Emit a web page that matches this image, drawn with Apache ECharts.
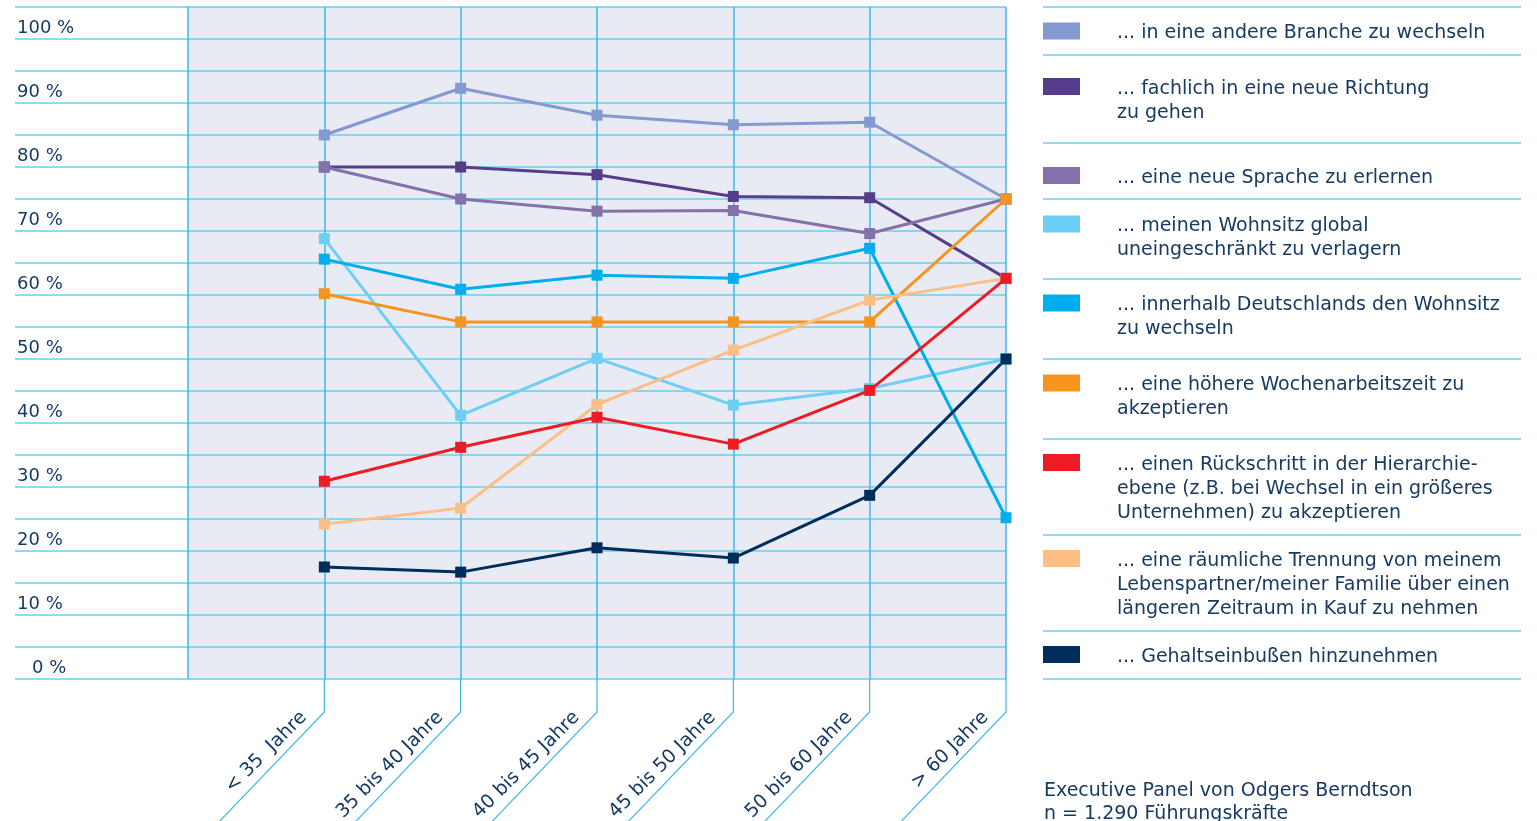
<!DOCTYPE html>
<html>
<head>
<meta charset="utf-8">
<script src="https://cdn.jsdelivr.net/npm/echarts@6/dist/echarts.min.js"></script>
<style>
  html, body { margin: 0; padding: 0; background: #fff; }
  #chart { width: 1537px; height: 821px; }
</style>
</head>
<body>
<div id="chart"></div>
<script>
// Altersgruppen (x-Achse)
const ageGroups = ['< 35  Jahre', '35 bis 40 Jahre', '40 bis 45 Jahre', '45 bis 50 Jahre', '50 bis 60 Jahre', '> 60 Jahre'];

// Werte in Prozent, je Aussage
const branche = [85, 92.3, 88.1, 86.6, 87, 75];
const richtung = [80, 80, 78.8, 75.4, 75.2, 62.6];
const sprache = [80, 75, 73.1, 73.2, 69.6, 75];
const wohnsitzGlobal = [68.8, 41.2, 50.1, 42.8, 45.4, 50];
const wohnsitzDE = [65.6, 60.9, 63.1, 62.6, 67.3, 25.2];
const wochenarbeitszeit = [60.2, 55.8, 55.8, 55.8, 55.8, 75];
const rueckschritt = [30.9, 36.2, 40.9, 36.7, 45.1, 62.6];
const trennung = [24.2, 26.7, 42.9, 51.4, 59.2, 62.6];
const gehalt = [17.5, 16.7, 20.5, 18.9, 28.7, 50];

const seriesNames = [
  '... in eine andere Branche zu wechseln',
  '... fachlich in eine neue Richtung\nzu gehen',
  '... eine neue Sprache zu erlernen',
  '... meinen Wohnsitz global\nuneingeschränkt zu verlagern',
  '... innerhalb Deutschlands den Wohnsitz\nzu wechseln',
  '... eine höhere Wochenarbeitszeit zu\nakzeptieren',
  '... einen Rückschritt in der Hierarchie-\nebene (z.B. bei Wechsel in ein größeres\nUnternehmen) zu akzeptieren',
  '... eine räumliche Trennung von meinem\nLebenspartner/meiner Familie über einen\nlängeren Zeitraum in Kauf zu nehmen',
  '... Gehaltseinbußen hinzunehmen'
];
const seriesValues = [branche, richtung, sprache, wohnsitzGlobal, wohnsitzDE, wochenarbeitszeit, rueckschritt, trennung, gehalt];

const footnote = 'Executive Panel von Odgers Berndtson\nn = 1.290 Führungskräfte';

// Farben / Layout
const palette = ['#8399cf', '#563d8c', '#8571a9', '#6dcff6', '#00aeef', '#f7941d', '#ed1c24', '#fdbf84', '#002d5c'];
const FONT = 'DejaVu Sans';
const TEXT = '#173a63';
const H_LINE = '#6ccbf0';
const V_LINE = '#3bb9ea';
const legendLineY = [31.5, 86.5, 176, 224, 303, 383, 462, 558, 655];
const separatorsY = [7, 55, 143, 199, 279, 359, 439, 535, 631, 679];

const chart = echarts.init(document.getElementById('chart'));

const series = seriesValues.map((vals, i) => ({
  name: seriesNames[i],
  type: 'line',
  xAxisIndex: 1,
  yAxisIndex: 1,
  data: vals.map((v, j) => [j + 1, v]),
  symbol: 'rect',
  symbolSize: 11,
  z: i === 6 ? 4 : 3,
  lineStyle: { width: 3, color: palette[i] },
  itemStyle: { color: palette[i] },
  emphasis: { disabled: true }
}));

// eine Legende je Eintrag; eine unsichtbare Zeile davor hält die erste Textzeile auf Höhe des Farbfelds
const legends = seriesNames.map((name, i) => {
  const n = name.split('\n').length;
  return {
    left: 1043,
    top: legendLineY[i] - 2 - 11.5 * n,
    padding: 0,
    icon: 'rect',
    itemWidth: 37,
    itemHeight: 17,
    selectedMode: false,
    formatter: s => '{pad| }\n' + s.split('\n').map(l => '{t|' + l + '}').join('\n'),
    textStyle: {
      fontFamily: FONT, fontSize: 19, color: TEXT, padding: [0, 0, 0, 32],
      rich: {
        pad: { fontSize: 2, lineHeight: 24 * n - 19 },
        t: { fontFamily: FONT, fontSize: 19, color: TEXT, lineHeight: 24 }
      }
    },
    data: [name]
  };
});

const yLines = {
  type: 'value', min: 0, max: 105, interval: 5,
  axisLine: { show: false }, axisTick: { show: false },
  splitLine: { show: true, lineStyle: { color: H_LINE, width: 1.5 } }
};

chart.setOption({
  animation: false,
  title: {
    left: 1044, top: 780, padding: 0,
    text: footnote,
    textStyle: { fontFamily: FONT, fontSize: 19, fontWeight: 'normal', color: TEXT, lineHeight: 23 }
  },
  legend: legends,
  grid: [
    { left: 15, width: 173, top: 7, bottom: 142, show: false, outerBoundsMode: 'none' },
    { left: 188, right: 531, top: 7, bottom: 142, show: true, backgroundColor: '#e8ebf3', borderWidth: 0, outerBoundsMode: 'none' }
  ],
  xAxis: [
    { gridIndex: 0, type: 'value', min: 0, max: 1, show: false },
    {
      gridIndex: 1, type: 'value', min: 0, max: 6, interval: 1,
      axisLine: { show: false }, axisTick: { show: false },
      splitLine: { show: true, lineStyle: { color: V_LINE, width: 1.5 } },
      axisLabel: {
        rotate: 45, margin: 15, padding: [0, 29, 0, 0],
        fontFamily: FONT, fontSize: 19, color: TEXT,
        formatter: v => (v >= 1 ? ageGroups[v - 1] : '')
      }
    }
  ],
  yAxis: [
    Object.assign({}, yLines, {
      gridIndex: 0,
      axisLabel: {
        inside: true, margin: 2, verticalAlign: 'bottom', padding: [0, 0, 2, 0],
        fontFamily: FONT, fontSize: 18, color: TEXT,
        formatter: v => (v % 10 === 0 && v <= 100) ? (v === 0 ? '{z|0 %}' : v + ' %') : '',
        rich: { z: { padding: [0, 0, 0, 15], fontFamily: FONT, fontSize: 18, color: TEXT } }
      }
    }),
    Object.assign({}, yLines, { gridIndex: 1, axisLabel: { show: false } })
  ],
  series: series
});

// Verbindungslinien unter den Altersgruppen und Trennlinien der Legende
const graphics = [];
ageGroups.forEach((g, i) => {
  const p = chart.convertToPixel({ gridIndex: 1 }, [i + 1, 0]);
  const x = p[0], y = p[1];
  graphics.push({
    type: 'polyline', silent: true,
    shape: { points: [[x, y], [x, y + 33], [x - 140, y + 33 + 146]] },
    style: { stroke: V_LINE, lineWidth: 1.2, fill: null }
  });
});
separatorsY.forEach(y => {
  graphics.push({
    type: 'line', silent: true,
    shape: { x1: 1043, y1: y, x2: 1521, y2: y },
    style: { stroke: H_LINE, lineWidth: 1.5 }
  });
});
chart.setOption({ graphic: graphics });
</script>
</body>
</html>
